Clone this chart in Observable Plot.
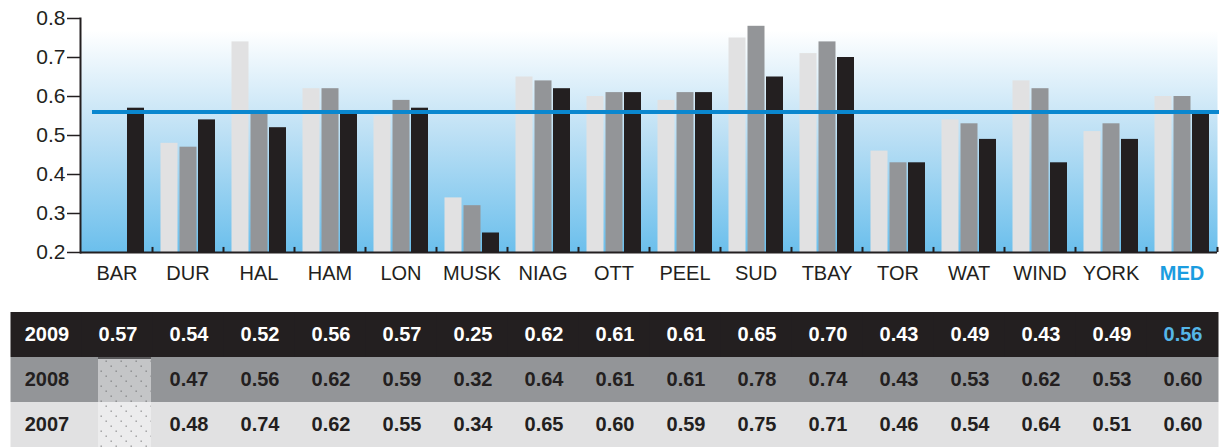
<!DOCTYPE html>
<html>
<head>
<meta charset="utf-8">
<script src="https://cdn.jsdelivr.net/npm/d3@7"></script>
<script src="https://cdn.jsdelivr.net/npm/@observablehq/plot@0.6"></script>
<style>
  html, body { margin: 0; padding: 0; background: #fff; }
  #wrap { width: 1219px; font-family: "Liberation Sans", Arial, sans-serif; }
  svg { display: block; }
</style>
</head>
<body>
<div id="wrap"></div>
<script>
// ---- data ----
const categories = ["BAR","DUR","HAL","HAM","LON","MUSK","NIAG","OTT","PEEL","SUD","TBAY","TOR","WAT","WIND","YORK","MED"];
const values2009 = [0.57,0.54,0.52,0.56,0.57,0.25,0.62,0.61,0.61,0.65,0.70,0.43,0.49,0.43,0.49,0.56];
const values2008 = [null,0.47,0.56,0.62,0.59,0.32,0.64,0.61,0.61,0.78,0.74,0.43,0.53,0.62,0.53,0.60];
const values2007 = [null,0.48,0.74,0.62,0.55,0.34,0.65,0.60,0.59,0.75,0.71,0.46,0.54,0.64,0.51,0.60];
const years = ["2009","2008","2007"];
const median = 0.56;
const yTicks = [0.2,0.3,0.4,0.5,0.6,0.7,0.8];

const C07 = "#e1e1e2", C08 = "#939598", C09 = "#231f20", BLUE = "#0a87cf", MEDBLUE = "#1b9de0";

const rows = (vals, year) => categories.map((c, i) => ({cat: c, year, v: vals[i]}));
const d09 = rows(values2009, "2009"), d08 = rows(values2008, "2008"), d07 = rows(values2007, "2007");
const bars = (d) => d.filter(r => r.v != null);

const FONT = "'Liberation Sans', Arial, sans-serif";

// ---- chart ----
const chart = Plot.plot({
  width: 1219, height: 300,
  marginTop: 18, marginBottom: 48, marginLeft: 80, marginRight: 2,
  style: {fontFamily: FONT, background: "transparent", overflow: "visible"},
  x: {type: "band", domain: categories, padding: 0, axis: null},
  y: {domain: [0.2, 0.8], axis: null},
  marks: [
    Plot.frame({fill: "url(#bgGrad)", stroke: null, insetTop: 12}),
    Plot.barY(bars(d07), {x: "cat", y1: () => 0.2, y2: "v", fill: C07, insetLeft: 27, insetRight: 27, dx: -18.5}),
    Plot.barY(bars(d08), {x: "cat", y1: () => 0.2, y2: "v", fill: C08, insetLeft: 27, insetRight: 27, dx: 0.5}),
    Plot.barY(bars(d09), {x: "cat", y1: () => 0.2, y2: "v", fill: C09, insetLeft: 27, insetRight: 27, dx: 19}),
    Plot.ruleY([median], {stroke: BLUE, strokeWidth: 4, insetLeft: 12, insetRight: -2}),
    Plot.ruleY([0.2], {stroke: "#231f20", strokeWidth: 2}),
    Plot.ruleX(categories, {x: d => d, dx: 35.5, y1: () => 0.2, y2: () => 0.213, stroke: "#231f20", strokeWidth: 2}),
    Plot.frame({anchor: "left", stroke: "#231f20", strokeWidth: 2}),
    Plot.axisY({ticks: yTicks, label: null, tickSize: 13, tickPadding: 2, tickFormat: d3.format(".1f"), fontSize: 21, stroke: "#231f20", strokeWidth: 1.5, color: "#231f20"}),
    Plot.text(categories.filter(c => c !== "MED"), {x: d => d, y: () => 0.2, dy: 21, text: d => d, fontSize: 20, fill: "#231f20", lineAnchor: "middle"}),
    Plot.text(["MED"], {x: d => d, y: () => 0.2, dy: 21, text: d => d, fontSize: 20, fontWeight: "bold", fill: MEDBLUE, lineAnchor: "middle"})
  ]
});

// gradient defs
const defs = d3.select(chart).insert("defs", ":first-child");
const g = defs.append("linearGradient").attr("id", "bgGrad").attr("x1", 0).attr("y1", 0).attr("x2", 0).attr("y2", 1);
g.append("stop").attr("offset", "0%").attr("stop-color", "#ffffff");
g.append("stop").attr("offset", "45%").attr("stop-color", "#bfe1f5");
g.append("stop").attr("offset", "100%").attr("stop-color", "#6bbfec");

// ---- table ----
const cols = ["", ...categories];
const cells = [];
for (const y of years) for (const c of cols) cells.push({col: c, year: y});

const textRows = [...d09, ...d08, ...d07].filter(r => r.v != null);
const table = Plot.plot({
  width: 1219, height: 147,
  marginTop: 12, marginBottom: 0, marginLeft: 10, marginRight: 0,
  style: {fontFamily: FONT, background: "transparent"},
  x: {type: "band", domain: cols, padding: 0, axis: null},
  y: {type: "band", domain: years, padding: 0, axis: null},
  marks: [
    Plot.cell(cells.filter(d => d.year === "2009"), {x: "col", y: "year", fill: C09, insetLeft: -0.5, insetRight: -0.5}),
    Plot.cell(cells.filter(d => d.year === "2008"), {x: "col", y: "year", fill: C08, insetLeft: -0.5, insetRight: -0.5}),
    Plot.cell(cells.filter(d => d.year === "2007"), {x: "col", y: "year", fill: C07, insetLeft: -0.5, insetRight: -0.5}),
    Plot.cell([{col: "BAR", year: "2008"}], {x: "col", y: "year", fill: "#5a5a5c", insetLeft: 16, insetRight: 2, insetBottom: 43}),
    Plot.cell([{col: "BAR", year: "2008"}], {x: "col", y: "year", fill: "url(#hatch08)", insetLeft: 16, insetRight: 2, insetTop: 2}),
    Plot.cell([{col: "BAR", year: "2007"}], {x: "col", y: "year", fill: "url(#hatch07)", insetLeft: 16, insetRight: 2}),
    Plot.text(years, {x: () => "", y: d => d, text: d => d, fontSize: 20, fontWeight: "bold", fill: d => d === "2009" ? "#ffffff" : "#231f20"}),
    Plot.text(textRows.filter(r => r.year === "2009" && r.cat !== "MED"), {x: "cat", y: "year", text: r => r.v.toFixed(2), fontSize: 20, fontWeight: "bold", fill: "#ffffff"}),
    Plot.text(textRows.filter(r => r.year === "2009" && r.cat === "MED"), {x: "cat", y: "year", text: r => r.v.toFixed(2), fontSize: 20, fontWeight: "bold", fill: "#55b6e8"}),
    Plot.text(textRows.filter(r => r.year !== "2009"), {x: "cat", y: "year", text: r => r.v.toFixed(2), fontSize: 20, fontWeight: "bold", fill: "#231f20"})
  ]
});

const tdefs = d3.select(table).insert("defs", ":first-child");
function hatch(id, base, dot) {
  const p = tdefs.append("pattern").attr("id", id).attr("patternUnits", "userSpaceOnUse").attr("width", 15).attr("height", 15);
  p.append("rect").attr("width", 15).attr("height", 15).attr("fill", base);
  for (const k of [0, 5, 10]) p.append("rect").attr("x", k + 0.5).attr("y", k + 0.5).attr("width", 1.4).attr("height", 1.4).attr("fill", dot);
}
hatch("hatch08", "#c4c5c7", "#87888a");
hatch("hatch07", "#ececed", "#98989a");

document.getElementById("wrap").append(chart, table);
</script>
</body>
</html>
